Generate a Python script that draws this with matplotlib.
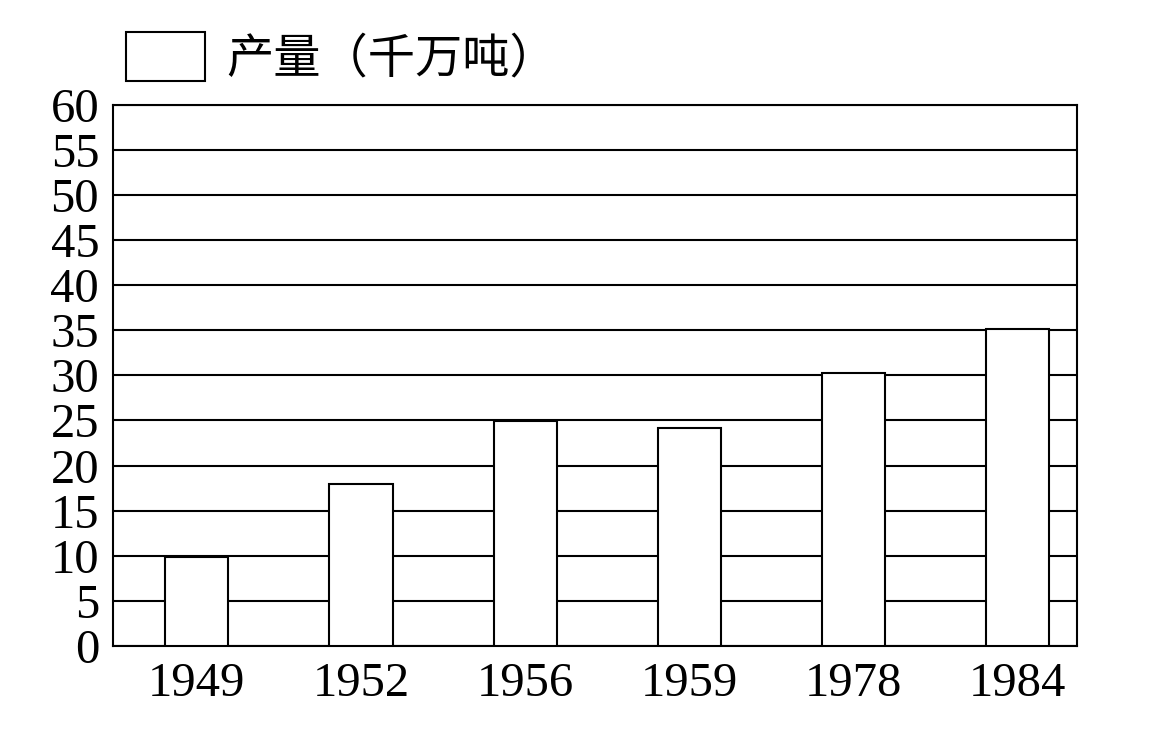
import matplotlib
matplotlib.use("Agg")
from matplotlib import pyplot as plt
import numpy as np

# years and output (千万吨)
years = ["1949", "1952", "1956", "1959", "1978", "1984"]
output = [9.8, 17.9, 24.9, 24.2, 30.3, 35.1]
y_ticks = list(range(0, 65, 5))
legend_label = "产量（千万吨）"

plt.rcParams["font.family"] = ["Liberation Serif", "DejaVu Serif"]

fig = plt.figure(figsize=(11.5, 7.38), dpi=100)
ax = fig.add_axes([0.0983, 0.125, 0.8382, 0.7327])

idx = np.arange(len(years))

# horizontal grid lines
ax.set_axisbelow(True)
ax.yaxis.grid(True, color="black", linewidth=1.5)

ax.bar(idx, output, width=0.385, color="white", edgecolor="black",
       linewidth=1.5, label=legend_label, zorder=3)

ax.set_xlim(-0.51, 5.36)
ax.set_ylim(0, 60)
ax.set_yticks(y_ticks)
ax.set_xticks(idx, labels=years)
ax.tick_params(axis="both", length=0, labelsize=35)
ax.tick_params(axis="y", pad=10)
ax.tick_params(axis="x", pad=12)

for sp in ax.spines.values():
    sp.set_linewidth(1.5)
    sp.set_color("black")

leg = fig.legend(loc="lower left", bbox_to_anchor=(0.1096, 0.887),
                 frameon=False, handlelength=1.68, handleheight=1.21,
                 handletextpad=0.45, borderpad=0, borderaxespad=0,
                 prop={"family": ["Noto Sans CJK SC", "DejaVu Sans"], "size": 34})

plt.savefig("out.png", dpi=100)
